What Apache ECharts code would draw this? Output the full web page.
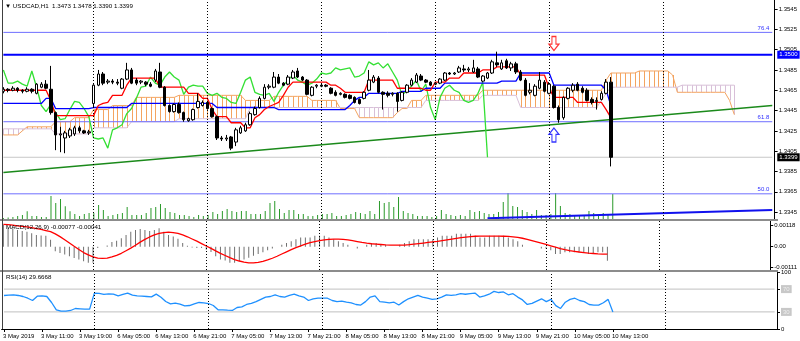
<!DOCTYPE html>
<html><head><meta charset="utf-8">
<script src="https://cdn.jsdelivr.net/npm/echarts@6/dist/echarts.min.js"></script>
<style>html,body{margin:0;padding:0;background:#fff}#c{width:800px;height:341px}</style>
</head><body><div id="c"></div>
<script>
// ---------- DATA ----------
const tickLabels = ['3 May 2019','3 May 11:00','3 May 19:00','6 May 05:00','6 May 13:00','6 May 21:00','7 May 05:00','7 May 13:00','7 May 21:00','8 May 05:00','8 May 13:00','8 May 21:00','9 May 05:00','9 May 13:00','9 May 21:00','10 May 05:00','10 May 13:00'];
const daySeparators = [19, 43, 67, 91, 115, 139];
const priceTicks = [1.3345,1.3365,1.3385,1.3405,1.3425,1.3445,1.3465,1.3485,1.3505,1.3525,1.3545];
// [open, close, low, high]
const candles = [
[1.3464,1.3466,1.3462,1.3468],[1.3466,1.3465,1.3463,1.3467],[1.3465,1.3467,1.3464,1.3469],[1.3467,1.3465,1.3463,1.3468],
[1.3465,1.3464,1.3462,1.3466],[1.3464,1.3466,1.3463,1.3468],[1.3466,1.3464,1.3462,1.3467],[1.3462,1.3471,1.3461,1.3472],
[1.3468,1.3471,1.3467,1.3473],[1.3471,1.3467,1.3466,1.3475],[1.3466,1.3443,1.3441,1.3489],[1.3443,1.3421,1.3406,1.3444],
[1.3421,1.3422,1.3404,1.3429],[1.3418,1.3423,1.3403,1.3425],[1.3420,1.3426,1.3418,1.3428],[1.3422,1.3428,1.3420,1.3430],
[1.3428,1.3425,1.3423,1.3430],[1.3425,1.3423,1.3422,1.3426],[1.3423,1.3424,1.3421,1.3426],[1.3452,1.3470,1.3448,1.3471],
[1.3470,1.3481,1.3469,1.3485],[1.3481,1.3472,1.3470,1.3483],[1.3473,1.3474,1.3471,1.3476],[1.3474,1.3473,1.3471,1.3476],
[1.3473,1.3472,1.3470,1.3476],[1.3467,1.3476,1.3466,1.3477],[1.3476,1.3485,1.3475,1.3492],[1.3485,1.3472,1.3471,1.3487],
[1.3475,1.3472,1.3470,1.3477],[1.3473,1.3474,1.3471,1.3475],[1.3473,1.3471,1.3469,1.3474],[1.3471,1.3469,1.3468,1.3473],
[1.3475,1.3484,1.3473,1.3486],[1.3483,1.3468,1.3467,1.3492],[1.3468,1.3450,1.3449,1.3469],[1.3450,1.3444,1.3443,1.3451],
[1.3444,1.3451,1.3443,1.3452],[1.3451,1.3443,1.3442,1.3453],[1.3443,1.3436,1.3434,1.3444],[1.3435,1.3437,1.3434,1.3438],
[1.3436,1.3446,1.3435,1.3447],[1.3448,1.3454,1.3447,1.3462],[1.3450,1.3453,1.3449,1.3455],[1.3453,1.3447,1.3446,1.3454],
[1.3447,1.3439,1.3438,1.3448],[1.3439,1.3418,1.3416,1.3440],[1.3418,1.3417,1.3415,1.3420],[1.3417,1.3418,1.3415,1.3421],
[1.3419,1.3408,1.3406,1.3420],[1.3414,1.3426,1.3410,1.3428],[1.3423,1.3428,1.3422,1.3430],[1.3425,1.3431,1.3424,1.3433],
[1.3431,1.3442,1.3430,1.3444],[1.3441,1.3447,1.3440,1.3449],[1.3448,1.3457,1.3447,1.3459],[1.3457,1.3468,1.3456,1.3471],
[1.3468,1.3469,1.3466,1.3471],[1.3468,1.3478,1.3467,1.3483],[1.3478,1.3472,1.3471,1.3481],[1.3472,1.3470,1.3469,1.3473],
[1.3471,1.3478,1.3470,1.3480],[1.3477,1.3483,1.3476,1.3485],[1.3484,1.3478,1.3477,1.3487],[1.3478,1.3475,1.3474,1.3479],
[1.3475,1.3461,1.3460,1.3476],[1.3460,1.3468,1.3459,1.3469],[1.3469,1.3470,1.3467,1.3471],[1.3470,1.3469,1.3468,1.3472],
[1.3470,1.3469,1.3468,1.3471],[1.3467,1.3462,1.3461,1.3468],[1.3463,1.3460,1.3459,1.3465],[1.3461,1.3462,1.3460,1.3463],
[1.3461,1.3458,1.3457,1.3462],[1.3460,1.3457,1.3456,1.3461],[1.3458,1.3453,1.3452,1.3459],[1.3456,1.3452,1.3451,1.3457],
[1.3457,1.3463,1.3456,1.3464],[1.3465,1.3475,1.3464,1.3485],[1.3473,1.3478,1.3472,1.3480],[1.3477,1.3463,1.3462,1.3479],
[1.3463,1.3461,1.3446,1.3464],[1.3462,1.3460,1.3458,1.3464],[1.3461,1.3462,1.3459,1.3463],[1.3462,1.3454,1.3444,1.3463],
[1.3455,1.3463,1.3454,1.3464],[1.3463,1.3470,1.3462,1.3471],[1.3470,1.3475,1.3469,1.3477],[1.3473,1.3480,1.3472,1.3482],
[1.3479,1.3475,1.3474,1.3481],[1.3475,1.3473,1.3472,1.3476],[1.3473,1.3470,1.3469,1.3474],[1.3471,1.3472,1.3470,1.3473],
[1.3472,1.3476,1.3471,1.3477],[1.3475,1.3482,1.3474,1.3483],[1.3482,1.3481,1.3480,1.3483],[1.3481,1.3482,1.3480,1.3483],
[1.3483,1.3487,1.3482,1.3489],[1.3486,1.3485,1.3483,1.3490],[1.3485,1.3486,1.3483,1.3488],[1.3483,1.3487,1.3482,1.3495],
[1.3486,1.3478,1.3477,1.3488],[1.3474,1.3479,1.3473,1.3480],[1.3477,1.3482,1.3476,1.3483],[1.3482,1.3493,1.3481,1.3495],
[1.3492,1.3490,1.3488,1.3503],[1.3486,1.3492,1.3485,1.3495],[1.3494,1.3487,1.3486,1.3496],[1.3487,1.3491,1.3484,1.3493],
[1.3491,1.3483,1.3481,1.3493],[1.3483,1.3475,1.3474,1.3485],[1.3475,1.3460,1.3459,1.3477],[1.3463,1.3465,1.3461,1.3472],
[1.3460,1.3469,1.3459,1.3471],[1.3467,1.3475,1.3466,1.3483],[1.3473,1.3464,1.3463,1.3475],[1.3462,1.3471,1.3461,1.3473],
[1.3469,1.3448,1.3447,1.3470],[1.3448,1.3436,1.3433,1.3450],[1.3438,1.3458,1.3436,1.3459],[1.3457,1.3467,1.3456,1.3468],
[1.3465,1.3470,1.3463,1.3472],[1.3471,1.3465,1.3464,1.3473],[1.3467,1.3463,1.3462,1.3469],[1.3465,1.3455,1.3454,1.3467],
[1.3456,1.3453,1.3451,1.3458],[1.3454,1.3455,1.3446,1.3458],[1.3456,1.3462,1.3455,1.3464],[1.3462,1.3473,1.3461,1.3476],
[1.3473,1.3399,1.3390,1.3478]
];
const volumes = [100,150,200,300,400,770,300,300,200,200,
2300,1600,2000,1270,770,500,300,500,600,600,
1400,900,300,400,500,600,1200,400,400,400,
600,1100,1200,1500,1100,700,600,400,400,300,
200,400,300,400,700,500,800,1000,800,700,
800,800,500,500,500,800,1600,1800,1000,600,
900,900,500,500,300,300,400,500,500,600,
300,300,400,500,700,600,500,800,500,1800,
1600,1700,1200,2200,800,600,500,300,300,300,
200,300,900,500,400,300,400,300,900,700,
800,600,500,500,700,1700,2600,1300,1200,900,
700,500,900,400,400,500,2600,1300,600,500,
400,400,400,800,600,400,600,400,2500];
// Ichimoku lines as [value, number of bars] runs
const tenkanRuns = [[1.3465,10],[1.3455,1],[1.3440,9],[1.3450,1],[1.3452,1],[1.3453,1],[1.3460,3],[1.3470,1],[1.3477,6],[1.3468,6],[1.3462,3],[1.3457,2],[1.3446,1],[1.3439,3],[1.3433,3],[1.3428,2],[1.3438,1],[1.3441,1],[1.3446,1],[1.3449,1],[1.3451,1],[1.3453,1],[1.3460,1],[1.3468,1],[1.3473,8],[1.3470,2],[1.3467,1],[1.3463,5],[1.3475,6],[1.3467,6],[1.3465,2],[1.3473,3],[1.3477,3],[1.3482,4],[1.3485,3],[1.3488,5],[1.3480,6],[1.3467,1],[1.3458,5],[1.3453,6],[1.3446,1],[1.3438,1]];
const kijunRuns = [[1.3452,9],[1.3457,2],[1.3447,8],[1.3448,8],[1.3452,18],[1.3448,13],[1.3446,15],[1.3450,1],[1.3455,1],[1.3458,2],[1.3462,7],[1.3464,5],[1.3467,4],[1.3472,12],[1.3474,4],[1.3482,7],[1.3470,11],[1.3465,1],[1.3450,1]];
const senkouARuns = [[1.3421,4],[1.3425,1],[1.3429,6],[1.3434,4],[1.3438,4],[1.3446,4],[1.3450,5],[1.3458,9],[1.3460,14],[1.3455,6],[1.3459,8],[1.3455,6],[1.3447,4],[1.3438,8],[1.3443,1],[1.3447,2],[1.3455,3],[1.3460,12],[1.3465,26],[1.3475,1],[1.3482,6],[1.3484,7],[1.3480,1],[1.3463,11],[1.3455,1],[1.3441,1]];
const senkouBRuns = [[1.3427,11],[1.3422,8],[1.3428,8],[1.3434,10],[1.3437,15],[1.3448,37],[1.3455,12],[1.3460,8],[1.3448,17],[1.3455,1],[1.3462,1],[1.3468,15],[1.3470,12]];
const chikouShift = 26;
const macdMain = [0.00118,0.00104,0.00100,0.00091,0.00086,0.00082,0.00073,0.00064,0.00061,0.00060,
0.00038,-0.00025,-0.00034,-0.00043,-0.00052,-0.00061,-0.00070,-0.00079,-0.00088,-0.00088,
-0.00007,0,0.00007,0.00025,0.00032,0.00046,0.00064,0.00082,0.00091,0.00096,
0.00091,0.00086,0.00091,0.00100,0.00082,0.00064,0.00055,0.00043,0.00020,0.00005,
-0.00004,-0.00007,-0.00007,-0.00016,-0.00029,-0.00052,-0.00070,-0.00075,-0.00088,-0.00088,
-0.00079,-0.00070,-0.0006,-0.0005,-0.0004,-0.0003,-0.0002,-0.0001,0,0.0001,
0.0002,0.0003,0.0004,0.0005,0.0005,0.0005,0.0006,0.0006,0.0006,0.0005,
0.0004,0.0003,0.0002,0.0001,0,-0.0001,0,0.0001,0.0002,0.0002,
0.0001,0.0001,0,0,0.0001,0.0002,0.0003,0.0004,0.0004,0.0004,
0.0004,0.0004,0.0005,0.0006,0.0006,0.0006,0.0007,0.0007,0.0007,0.0007,
0.0006,0.0005,0.0005,0.0006,0.0006,0.0006,0.0006,0.0005,0.0004,0.0003,
0.0001,0,0,0,-0.0001,-0.0001,-0.0002,-0.0004,-0.0004,-0.0003,
-0.0003,-0.0003,-0.0003,-0.0003,-0.0004,-0.0004,-0.0003,-0.0003,-0.00077];
const macdSignal = [0.00122,0.00120,0.00117,0.00114,0.00111,0.00108,0.00104,0.00099,0.00094,0.00088,
0.00082,0.00070,0.00055,0.00038,0.00020,0.00002,-0.00015,-0.00032,-0.00045,-0.00056,
-0.00062,-0.00064,-0.00062,-0.00056,-0.00047,-0.00036,-0.00022,-0.00008,0.00008,0.00025,
0.00040,0.00053,0.00064,0.00072,0.00077,0.00079,0.00077,0.00072,0.00064,0.00054,
0.00042,0.00030,0.00017,0.00004,-0.00009,-0.00023,-0.00036,-0.00048,-0.00060,-0.00070,
-0.00078,-0.00084,-0.00088,-0.00088,-0.00085,-0.0008,-0.00072,-0.00063,-0.00052,-0.0004,
-0.00028,-0.00016,-0.00005,0.00005,0.00014,0.00022,0.00028,0.00033,0.00037,0.0004,
0.00041,0.00041,0.0004,0.00037,0.00033,0.00028,0.00023,0.00019,0.00016,0.00014,
0.00012,0.0001,0.00009,0.00008,0.00008,0.00009,0.00011,0.00014,0.00017,0.0002,
0.00023,0.00026,0.00029,0.00033,0.00037,0.00041,0.00045,0.00049,0.00052,0.00055,
0.00057,0.00058,0.00058,0.00058,0.00058,0.00058,0.00057,0.00056,0.00054,0.00051,
0.00046,0.0004,0.00033,0.00026,0.00019,0.00012,0.00005,-0.00003,-0.0001,-0.00016,
-0.00021,-0.00025,-0.00029,-0.00032,-0.00035,-0.00037,-0.00039,-0.0004,-0.00041];
const rsi = [58.8,59.4,60,58.8,57,54,50,57.6,58.2,57,
46.5,33.6,31.3,31.3,32.5,36,35.4,34.8,34.8,63,
62.4,60.6,61.8,61.2,58.2,60.6,63,59.4,58.2,57.6,
57,56.4,61.2,55.8,48.2,44.1,45.3,43.5,40.6,41.2,
44.1,46.5,45.9,44.7,41.2,33.6,33.6,33,32.5,37.7,
38.9,43,45,48,52,56,57,60,57,56,
59,61,58,56,50,53,54,54,54,50,
48,49,47,46,43,42,48,56,58,48,
47,46,47,42,48,53,56,59,56,54,
52,53,56,60,59,60,62,61,62,63,
56,58,61,66,64,65,60,62,56,51,
43,45,49,53,48,52,41,36,47,52,
54,50,48,43,42,42,46,52,29.6668];
const bluePriceLevel = 1.3500;
const bidPrice = 1.3399;
const fibNames = ['76.4','61.8','50.0'];
const fibPrices = [1.3522,1.3434,1.3363];
const greenTrend = [[0,1.3384],[162,1.3450]];
const blueTrend = [[102,1.3339],[162,1.3347]];
const arrowDown = [[116,1.3511]];
const arrowUp = [[116,1.3421]];
const rsiLevels = [70,30];
const macdTicks = [-0.00111,0,0.00118];
const rsiTicks = [0,30,70,100];

// ---------- BUILD ----------
const N = 163, LAST = N - 1;
const cats = Array.from({length:N},(_,i)=>String(i));
const expand = runs => { const out=[]; runs.forEach(([v,n])=>{for(let k=0;k<n;k++) out.push(v);}); return out; };
const tenkan = expand(tenkanRuns), kijun = expand(kijunRuns);
const senkouA = expand(senkouARuns), senkouB = expand(senkouBRuns);
const chikou = candles.slice(chikouShift).map(c=>c[1]);
const cloud = senkouA.map((a,i)=>[i,a,senkouB[i]]);
const FONT = 'Liberation Sans';
const FS = 6;

const sepLines = daySeparators.map(i=>({xAxis:String(i)}));
const sepStyle = {type:[1,2], color:'#000', width:1};
const sepMarkLine = {silent:true, symbol:'none', data:sepLines, lineStyle:sepStyle, label:{show:false}};

function xAx(idx, show){
  return {type:'category', gridIndex:idx, data:cats, boundaryGap:true,
    axisLine:{show:show, lineStyle:{color:'#000', width:1}},
    axisTick:{show:show, alignWithLabel:true, length:3, lineStyle:{color:'#000'},
      interval:(i)=> i%8===0 && i/8 < tickLabels.length},
    axisLabel:{show:show, interval:(i)=> i%8===0 && i/8 < tickLabels.length,
      formatter:(v)=>{const i=+v; return (i%8===0 && i/8<tickLabels.length)?tickLabels[i/8]:'';},
      fontFamily:FONT, fontSize:FS, color:'#000', align:'left', margin:4, padding:[0,0,0,-1]},
    splitLine:{show:false}};
}

// horizontal level: a 2-point line series spanning the pane + label markPoint at its right end
function hLevel(v, color, width, label, z){
  const s = {type:'line', xAxisIndex:0, yAxisIndex:0, data:[[0,v],[LAST,v]], showSymbol:false, silent:true, z:z||3,
    lineStyle:{color:color, width:width}};
  if (label) s.markPoint = {symbol:'circle', symbolSize:0, silent:true, data:[{coord:[LAST,v], label:label}]};
  return s;
}

const levelSeries = [
  ...fibPrices.map((v,k)=>hLevel(v,'#6f6fff',1,{show:true, formatter:fibNames[k], position:'left', offset:[2,-4], color:'#3030ff', fontFamily:FONT, fontSize:FS})),
  hLevel(bidPrice,'#c8c8c8',1,{show:true, formatter:bidPrice.toFixed(4), position:'right', offset:[0,0], distance:5, backgroundColor:'#000', color:'#fff', fontFamily:FONT, fontSize:FS, padding:[1,2]}, 2),
  hLevel(bluePriceLevel,'#0000ff',2,{show:true, formatter:bluePriceLevel.toFixed(4), position:'right', distance:5, backgroundColor:'#0000ff', color:'#fff', fontFamily:FONT, fontSize:FS, padding:[1,2]}, 3)
];

const chart = echarts.init(document.getElementById('c'), null, {renderer:'canvas'});
const option = {
  animation:false,
  backgroundColor:'#fff',
  grid:[
    {left:1, right:23, top:0, height:219},
    {left:1, right:23, top:179, height:40},
    {left:1, right:23, top:221, height:49},
    {left:1, right:23, top:272, height:57}
  ],
  xAxis:[xAx(0,false), xAx(1,false), xAx(2,false), xAx(3,true)],
  yAxis:[
    {type:'value', gridIndex:0, position:'right', min:1.33382, max:1.35539, scale:true,
      axisLine:{show:true, lineStyle:{color:'#000'}},
      axisTick:{show:true, customValues:priceTicks, length:3, lineStyle:{color:'#000'}},
      axisLabel:{customValues:priceTicks, formatter:v=>v.toFixed(4), fontFamily:FONT, fontSize:FS, color:'#000', margin:4},
      splitLine:{show:false}},
    {type:'value', gridIndex:1, min:0, max:4000, show:false},
    {type:'value', gridIndex:2, position:'right', min:-0.00127, max:0.00140,
      axisLine:{show:true, lineStyle:{color:'#000'}},
      axisTick:{show:true, customValues:macdTicks, length:3, lineStyle:{color:'#000'}},
      axisLabel:{customValues:macdTicks, formatter:v=> v===0?'0.00':v.toFixed(5), fontFamily:FONT, fontSize:FS, color:'#000', margin:4},
      splitLine:{show:false}},
    {type:'value', gridIndex:3, position:'right', min:0, max:100,
      axisLine:{show:true, lineStyle:{color:'#000'}},
      axisTick:{show:true, customValues:rsiTicks, length:3, lineStyle:{color:'#000'}},
      axisLabel:{customValues:rsiTicks, fontFamily:FONT, fontSize:FS, color:'#000', margin:4,
        formatter:v=> (v===30||v===70)?'{b|'+v+'}':String(v),
        rich:{b:{backgroundColor:'#c8c8c8', color:'#eee', fontFamily:FONT, fontSize:FS, padding:[1,2]}}},
      splitLine:{show:false}}
  ],
  series:[
    {type:'custom', xAxisIndex:0, yAxisIndex:0, data:cloud, encode:{x:0,y:[1,2]}, z:1, silent:true,
      renderItem:(params,api)=>{
        const i=api.value(0), a=api.value(1), b=api.value(2);
        const p1=api.coord([i,a]), p2=api.coord([i,b]);
        const x=Math.round(p1[0])+0.5;
        return {type:'line', shape:{x1:x,y1:p1[1],x2:x,y2:p2[1]}, style:{stroke:a>=b?'#F4A460':'#D8BFD8', lineWidth:1}};
      },
      markLine:sepMarkLine},
    {type:'line', xAxisIndex:0, yAxisIndex:0, data:senkouA, showSymbol:false, lineStyle:{color:'#F4A460', width:1}, z:2, silent:true},
    {type:'line', xAxisIndex:0, yAxisIndex:0, data:senkouB, showSymbol:false, lineStyle:{color:'#D8BFD8', width:1}, z:2, silent:true},
    ...levelSeries,
    {type:'line', xAxisIndex:0, yAxisIndex:0, data:greenTrend, showSymbol:false, lineStyle:{color:'#1b8a1b', width:1.5}, z:3, silent:true},
    {type:'line', xAxisIndex:0, yAxisIndex:0, data:blueTrend, showSymbol:false, lineStyle:{color:'#1010ee', width:2}, z:3, silent:true},
    {type:'line', xAxisIndex:0, yAxisIndex:0, data:chikou, showSymbol:false, lineStyle:{color:'#33e033', width:1.3}, z:4, silent:true},
    {type:'line', xAxisIndex:0, yAxisIndex:0, data:kijun, showSymbol:false, lineStyle:{color:'#0000ff', width:1.3}, z:4, silent:true},
    {type:'line', xAxisIndex:0, yAxisIndex:0, data:tenkan, showSymbol:false, lineStyle:{color:'#ff0000', width:1.3}, z:4, silent:true},
    {type:'candlestick', xAxisIndex:0, yAxisIndex:0, data:candles, barWidth:3, z:5,
      itemStyle:{color:'#ffffff', color0:'#000000', borderColor:'#000000', borderColor0:'#000000', borderWidth:1}},
    {type:'scatter', xAxisIndex:0, yAxisIndex:0, data:arrowDown, symbol:'path://M3,0 L7,0 L7,7 L10,7 L5,13 L0,7 L3,7 Z', symbolSize:[10,14],
      itemStyle:{color:'#fff', borderColor:'#ff0000', borderWidth:1.2}, z:6, silent:true},
    {type:'scatter', xAxisIndex:0, yAxisIndex:0, data:arrowUp, symbol:'path://M5,0 L10,6 L7,6 L7,13 L3,13 L3,6 L0,6 Z', symbolSize:[10,14],
      itemStyle:{color:'#fff', borderColor:'#0000ff', borderWidth:1.2}, z:6, silent:true},
    {type:'bar', xAxisIndex:1, yAxisIndex:1, data:volumes, barWidth:1, itemStyle:{color:'#2a9a2a'}, z:2, silent:true},
    {type:'bar', xAxisIndex:2, yAxisIndex:2, data:macdMain, barWidth:1, itemStyle:{color:'#707070'}, silent:true, markLine:sepMarkLine},
    {type:'line', xAxisIndex:2, yAxisIndex:2, data:macdSignal, showSymbol:false, lineStyle:{color:'#ff0000', width:1.3}, silent:true},
    {type:'line', xAxisIndex:3, yAxisIndex:3, data:rsi, showSymbol:false, lineStyle:{color:'#1e90ff', width:1.3}, silent:true, z:3, markLine:sepMarkLine},
    ...rsiLevels.map(v=>({type:'line', xAxisIndex:3, yAxisIndex:3, data:[[0,v],[LAST,v]], showSymbol:false, silent:true, z:2, lineStyle:{color:'#c0c0c0', width:1}}))
  ],
  graphic:[
    {type:'rect', shape:{x:0, y:219, width:778, height:2}, style:{fill:'#8c8c8c'}, silent:true, z:100},
    {type:'rect', shape:{x:0, y:270, width:778, height:2}, style:{fill:'#8c8c8c'}, silent:true, z:100},
    {type:'line', shape:{x1:2.5, y1:0, x2:2.5, y2:329}, style:{stroke:'#404040', lineWidth:1}, silent:true, z:100},
    {type:'text', left:5, top:3, style:{text:'\u25BC USDCAD,H1  1.3473 1.3478 1.3390 1.3399', font:'6.2px "Liberation Sans"', fill:'#000'}, z:100},
    {type:'text', left:6, top:224, style:{text:'MACD(12,26,9) -0.00077 -0.00041', font:'6.2px "Liberation Sans"', fill:'#000'}, z:100},
    {type:'text', left:6, top:274, style:{text:'RSI(14) 29.6668', font:'6.2px "Liberation Sans"', fill:'#000'}, z:100}
  ]
};
chart.setOption(option);
</script>
</body></html>
